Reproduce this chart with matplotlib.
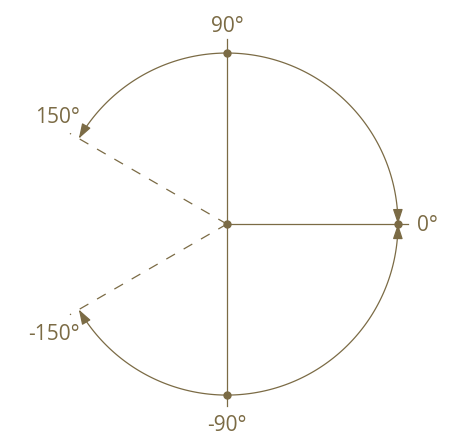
import numpy as np
import matplotlib
matplotlib.use("Agg")
import matplotlib.pyplot as plt
from matplotlib.patches import FancyArrowPatch
from matplotlib.path import Path

# data: angle labels and arcs (start angle -> end angle, in degrees)
label_angles = [90, 0, -90, 150, -150]
label_texts = ["90°", "0°", "-90°", "150°", "-150°"]
arc_starts = [90, 90, -90, -90]
arc_ends = [0, 150, 0, -150]
dashed_angles = [150, -150]
dot_angles = [90, 0, -90]

col = "#7b6b45"
plt.rcParams["font.family"] = ["Open Sans", "DejaVu Sans"]

fig = plt.figure(figsize=(4.52, 4.39), dpi=100)
ax = fig.add_axes([0, 0, 1, 1])
ax.set_xlim(-1.327, 1.316)
ax.set_ylim(-1.251, 1.316)
ax.axis("off")

# garis sumbu
ax.plot([0, 0], [-1.065, 1.08], color=col, lw=0.9)
ax.plot([0, 1.06], [0, 0], color=col, lw=0.9)

# garis putus-putus
for a in dashed_angles:
    t = np.radians(a)
    ax.plot([0, 1.06 * np.cos(t)], [0, 1.06 * np.sin(t)], color=col, lw=0.9,
            linestyle=(0, (8, 8)))

# busur dengan panah
for a0, a1 in zip(arc_starts, arc_ends):
    t = np.radians(np.linspace(a0, a1, 100))
    pts = np.column_stack([np.cos(t), np.sin(t)])
    arr = FancyArrowPatch(path=Path(pts), arrowstyle="-|>,head_length=9,head_width=3",
                          color=col, lw=0.9, shrinkA=0, shrinkB=0)
    ax.add_patch(arr)

# titik
ax.plot([0], [0], "o", color=col, ms=5)
for a in dot_angles:
    t = np.radians(a)
    ax.plot([np.cos(t)], [np.sin(t)], "o", color=col, ms=5)

# label
offsets = {90: (0, 1.16), 0: (1.11, 0), -90: (0, -1.17), 150: (-0.99, 0.63), -150: (-1.01, -0.64)}
for a, s in zip(label_angles, label_texts):
    x, y = offsets[a]
    ha = "left" if a == 0 else "center"
    ax.text(x, y, s, color=col, fontsize=15, ha=ha, va="center")

fig.savefig("out.png", dpi=100)
